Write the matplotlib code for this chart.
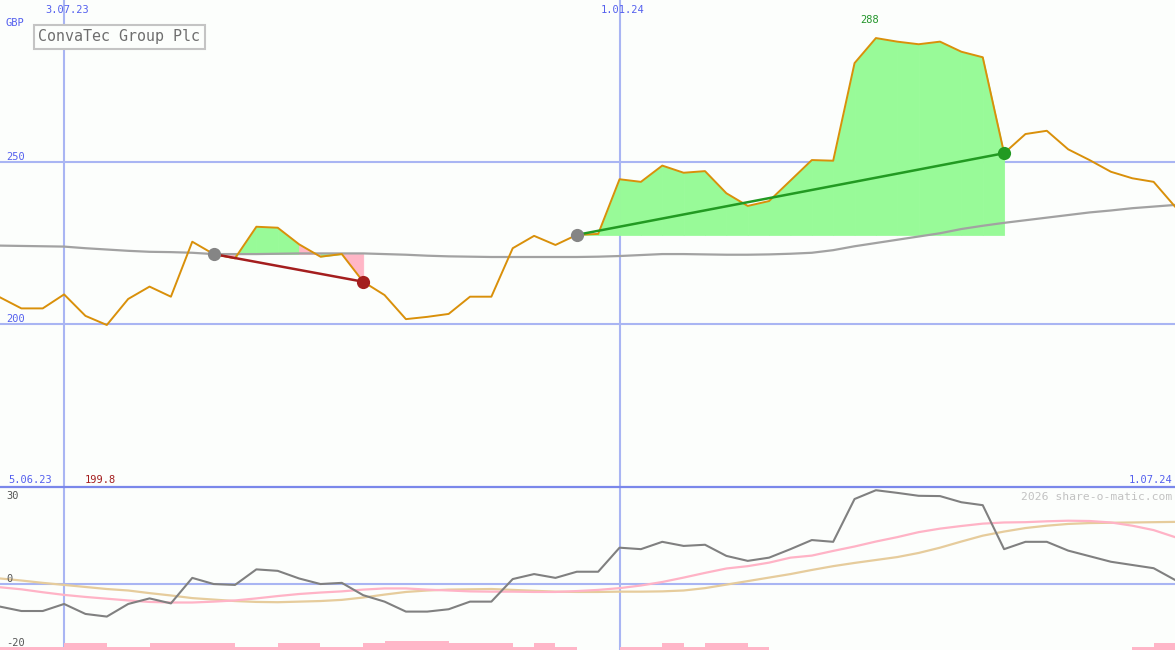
import matplotlib
matplotlib.use('Agg')
import matplotlib.pyplot as plt
import pandas as pd

# ---------------- data ----------------
dates = pd.date_range('2023-06-12', periods=56, freq='7D')

price = [208.3, 204.9, 204.9, 209.2, 202.6, 199.8, 207.8, 211.6, 208.5, 225.4,
         221.6, 220.3, 230.0, 229.7, 224.6, 220.8, 221.6, 213.1, 209.0, 201.6,
         202.3, 203.2, 208.5, 208.5, 223.4, 227.2, 224.4, 227.5, 227.8, 244.6,
         243.8, 248.8, 246.6, 247.1, 240.3, 236.4, 237.9, 244.2, 250.5, 250.3,
         280.3, 288.0, 286.9, 286.1, 286.9, 283.8, 282.1, 252.6, 258.5, 259.5,
         253.8, 250.5, 246.9, 244.9, 243.8, 236.2]

avg = [224.2, 224.1, 224.0, 223.9, 223.4, 223.0, 222.6, 222.3, 222.2, 222.0,
       221.6, 221.6, 221.6, 221.7, 221.8, 221.8, 221.8, 221.8, 221.6, 221.4,
       221.1, 220.9, 220.8, 220.7, 220.7, 220.7, 220.7, 220.7, 220.8, 221.0,
       221.3, 221.6, 221.6, 221.5, 221.4, 221.4, 221.5, 221.7, 222.0, 222.8,
       224.0, 225.0, 226.0, 227.0, 228.0, 229.3, 230.3, 231.2, 232.0, 232.8,
       233.6, 234.4, 235.0, 235.7, 236.2, 236.7]

osc_gray = [-7.7, -9.2, -9.2, -6.8, -10.2, -11.1, -6.8, -4.9, -6.6, 2.1,
            0.0, -0.3, 5.0, 4.5, 1.9, 0.0, 0.4, -3.8, -6.0, -9.4,
            -9.4, -8.6, -6.0, -6.0, 1.7, 3.4, 2.1, 4.2, 4.2, 12.4,
            11.9, 14.4, 13.0, 13.4, 9.6, 7.9, 9.0, 11.9, 15.0, 14.4,
            29.0, 32.0, 31.1, 30.1, 30.0, 27.9, 26.9, 11.9, 14.4, 14.4,
            11.4, 9.5, 7.6, 6.5, 5.4, 1.4]

osc_pink = [-1.1, -1.8, -2.8, -3.7, -4.4, -5.0, -5.6, -6.1, -6.3, -6.3,
            -6.0, -5.6, -4.9, -4.1, -3.4, -2.9, -2.5, -1.9, -1.5, -1.5,
            -1.9, -2.2, -2.5, -2.6, -2.6, -2.7, -2.7, -2.4, -2.0, -1.4,
            -0.5, 0.7, 2.2, 3.8, 5.3, 6.1, 7.3, 9.0, 9.7, 11.3,
            12.8, 14.5, 16.0, 17.7, 18.9, 19.8, 20.6, 21.0, 21.1, 21.4,
            21.6, 21.5, 21.0, 19.9, 18.4, 16.0]

osc_tan = [1.9, 1.2, 0.4, -0.3, -1.0, -1.7, -2.2, -3.1, -3.9, -4.8,
           -5.3, -5.8, -6.1, -6.2, -6.0, -5.8, -5.4, -4.6, -3.6, -2.7,
           -2.2, -1.9, -1.8, -1.7, -2.0, -2.3, -2.6, -2.7, -2.7, -2.6,
           -2.6, -2.5, -2.2, -1.4, -0.2, 1.0, 2.2, 3.4, 4.8, 6.1,
           7.2, 8.2, 9.2, 10.6, 12.4, 14.5, 16.5, 17.9, 19.1, 19.9,
           20.5, 20.8, 20.9, 21.0, 21.1, 21.2]

bar_h = [1.1, 1.1, 1.1, 2.3, 2.3, 1.1, 1.1, 2.3, 2.3, 2.3,
         2.3, 1.1, 1.1, 2.3, 2.3, 1.1, 1.1, 2.3, 3.1, 3.1,
         3.1, 2.3, 2.3, 2.3, 1.1, 2.3, 1.1, 0, 0, 1.1,
         1.1, 2.3, 1.1, 2.3, 2.3, 1.1, 0, 0, 0, 0,
         0, 0, 0, 0, 0, 0, 0, 0, 0, 0,
         0, 0, 0, 1.1, 2.3, 0]

trades = [(10, 17), (27, 47)]   # (entry index, exit index)

title = 'ConvaTec Group Plc'
currency = 'GBP'
price_ticks = [250, 200]
osc_ticks = [30, 0, -20]
vlines = [pd.Timestamp('2023-07-03'), pd.Timestamp('2024-01-01')]
vline_labels = ['3.07.23', '1.01.24']
start_label = '5.06.23'
end_label = '1.07.24'

# ---------------- style ----------------
BG = '#fcfefc'
GRID = '#a9b5f3'
SEP = '#7a87ea'
BLUE_TXT = '#5460ee'
MONO = 'DejaVu Sans Mono'

W, H = 1175, 650
fig = plt.figure(figsize=(W / 100, H / 100), dpi=100, facecolor=BG)
top_h = 487
ax = fig.add_axes([0, (H - top_h) / H, 1, top_h / H], facecolor=BG)
ax2 = fig.add_axes([0, 0, 1, (H - top_h) / H], facecolor=BG)

xmin, xmax = pd.Timestamp('2023-06-12'), pd.Timestamp('2024-07-01')
for a in (ax, ax2):
    a.set_xlim(xmin, xmax)
    for s in a.spines.values():
        s.set_visible(False)
    a.set_xticks([])
    a.set_yticks([])
    for v in vlines:
        a.axvline(v, color=GRID, lw=1.5, zorder=1)

ax.set_ylim(150, 299.7)
ax2.set_ylim(-22.5, 33.1)

# price grid
for t in price_ticks:
    ax.axhline(t, color=GRID, lw=1.5, zorder=1)
    ax.annotate(str(t), xy=(0, t), xycoords=('axes fraction', 'data'),
                xytext=(6, 2), textcoords='offset pixels', ha='left', va='baseline',
                fontsize=7.5, family=MONO, color=BLUE_TXT)

# trade fills
GREEN_FILL = '#98fa98'
PINK_FILL = '#ffb6c6'
for e, x in trades:
    base = price[e]
    for i in range(e, x):
        col = GREEN_FILL if price[i + 1] >= base else PINK_FILL
        ax.fill_between(dates[i:i + 2], price[i:i + 2], base, facecolor=col,
                        edgecolor=col, lw=0.6, zorder=2)

# moving average and price
ax.plot(dates, avg, color='#a2a2a2', lw=1.6, zorder=3)
ax.plot(dates, price, color='#d9900a', lw=1.4, zorder=4)

# trade lines and markers
for e, x in trades:
    win = price[x] > price[e]
    lc = '#229a22' if win else '#a41e1e'
    ax.plot([dates[e], dates[x]], [price[e], price[x]], color=lc, lw=1.8, zorder=5)
    ax.plot([dates[e]], [price[e]], 'o', color='#858585', ms=9.5, zorder=6, mew=0)
    ax.plot([dates[x]], [price[x]], 'o', color=lc, ms=9.5, zorder=6, mew=0)

# max / min labels
imax = max(range(len(price)), key=lambda k: price[k])
imin = min(range(len(price)), key=lambda k: price[k])
ax.annotate(f'{price[imax]:g}', xy=(dates[imax], price[imax]), xytext=(-6, 15),
            textcoords='offset pixels', ha='center', va='baseline',
            fontsize=7.5, family=MONO, color='#22952a')
ax.annotate(f'{price[imin]:g}', xy=(dates[imin], 0), xycoords=('data', 'axes fraction'),
            xytext=(-6, 4), textcoords='offset pixels', ha='center', va='baseline',
            fontsize=7.5, family=MONO, color='#a41e1e')

# date labels
for v, lab in zip(vlines, vline_labels):
    ax.annotate(lab, xy=(v, 1), xycoords=('data', 'axes fraction'), xytext=(3, -13),
                textcoords='offset pixels', ha='center', va='baseline',
                fontsize=7.5, family=MONO, color=BLUE_TXT)
ax.annotate(currency, xy=(0, 1), xycoords='axes fraction', xytext=(6, -26),
            textcoords='offset pixels', ha='left', va='baseline',
            fontsize=7.5, family=MONO, color=BLUE_TXT)
ax.annotate(start_label, xy=(0, 0), xycoords='axes fraction', xytext=(8, 4),
            textcoords='offset pixels', ha='left', va='baseline',
            fontsize=7.5, family=MONO, color=BLUE_TXT)
ax.annotate(end_label, xy=(1, 0), xycoords='axes fraction', xytext=(-3, 4),
            textcoords='offset pixels', ha='right', va='baseline',
            fontsize=7.5, family=MONO, color=BLUE_TXT)

# title box
ax.annotate(title, xy=(0, 1), xycoords='axes fraction', xytext=(38, -41),
            textcoords='offset pixels', ha='left', va='baseline',
            fontsize=10.8, family=MONO, color='#6e6e6e', zorder=10,
            bbox=dict(boxstyle='square,pad=0.3', fc=BG, ec='#c4c4c4', lw=1.5))

# ---------------- bottom panel ----------------
ymin2 = ax2.get_ylim()[0]
ax2.bar(dates, bar_h, width=7, align='edge', bottom=ymin2, color='#ffb6c8', lw=0, zorder=1)
ax2.axhline(0, color=GRID, lw=1.5, zorder=1)
ax2.plot(dates, osc_tan, color='#e6cc9c', lw=1.6, zorder=2)
ax2.plot(dates, osc_pink, color='#ffb3c6', lw=1.6, zorder=2)
ax2.plot(dates, osc_gray, color='#808080', lw=1.5, zorder=3)
ax2.plot([0, 1], [1, 1], transform=ax2.transAxes, color=SEP, lw=1.6, clip_on=False, zorder=5)

for t in osc_ticks:
    if t == 0:
        ax2.annotate(str(t), xy=(0, t), xycoords=('axes fraction', 'data'), xytext=(6, 2),
                     textcoords='offset pixels', ha='left', va='baseline',
                     fontsize=7.5, family=MONO, color='#555555')
    else:
        ax2.annotate(str(t), xy=(0, t), xycoords=('axes fraction', 'data'), xytext=(6, 0),
                     textcoords='offset pixels', ha='left', va='center',
                     fontsize=7.5, family=MONO, color='#555555')

ax2.annotate('2026 share-o-matic.com', xy=(1, 1), xycoords='axes fraction', xytext=(-3, -13),
             textcoords='offset pixels', ha='right', va='baseline',
             fontsize=8.2, family=MONO, color='#c2c2c2')

fig.savefig('out.png', dpi=100, facecolor=BG)
